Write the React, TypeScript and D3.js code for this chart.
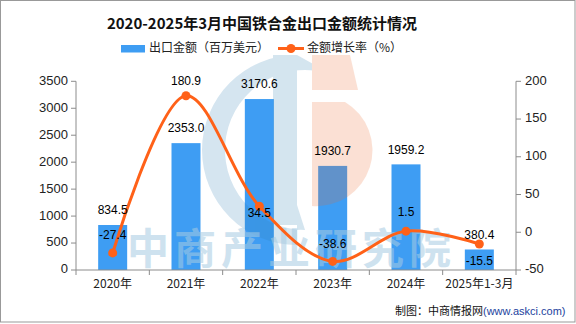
import React from "react";
import * as d3 from "d3";

const categories = ["2020年", "2021年", "2022年", "2023年", "2024年", "2025年1-3月"];
const exportValues = [834.5, 2353.0, 3170.6, 1930.7, 1959.2, 380.4];
const growthRates = [-27.4, 180.9, 34.5, -38.6, 1.5, -15.5];
const leftTicks = [0, 500, 1000, 1500, 2000, 2500, 3000, 3500];
const rightTicks = [-50, 0, 50, 100, 150, 200];
const title = "2020-2025年3月中国铁合金出口金额统计情况";
const legendBar = "出口金额（百万美元）";
const legendLine = "金额增长率（%）";

// style: label vertical offsets for growth labels (px relative to point)
const growthLabelDy = [-17, -14, 8, -17, -18, 18];

const W = 576;
const H = 324;
const M = { left: 76, right: 516, top: 81.3, bottom: 270 };

const BAR = "#3E9DF3";
const LINE = "#FF6118";
const AXIS = "#8c8c8c";
const TXT = "#222";
const FONT = "'Liberation Sans', Arial, sans-serif";
const CJK = "'Noto Sans CJK SC', sans-serif";

export default function App() {
  const x = d3.scaleBand<string>().domain(categories).range([M.left, M.right]).padding(0);
  const bw = 29;
  const yL = d3.scaleLinear().domain([0, 3500]).range([M.bottom, M.top]);
  const yR = d3.scaleLinear().domain([-50, 200]).range([M.bottom, M.top]);
  const cx = (c: string) => (x(c) as number) + x.bandwidth() / 2;

  const pts: [number, number][] = categories.map((c, i) => [cx(c), yR(growthRates[i])]);
  const linePath = d3.line().curve(d3.curveCatmullRom.alpha(0.5))(pts) as string;

  const bounds = categories.map((c) => x(c) as number).concat([M.right]);

  // watermark logo geometry
  const blueC = (() => {
    const p = d3.path();
    // outer left half circle
    p.moveTo(297, 55);
    p.arc(297, 150, 95, -Math.PI / 2, Math.PI / 2, true);
    p.lineTo(297, 225);
    p.lineTo(297, 205);
    p.arc(305, 150, 80, Math.PI / 2, -Math.PI / 2 + 0.35, false);
    p.closePath();
    return p.toString();
  })();

  return (
    <svg width={W} height={H} style={{ position: "absolute", left: 0, top: 0, background: "#fff" }}>
      <rect x={0.5} y={0.5} width={W - 1.5} height={H - 2.5} fill="#fff" stroke="#999" />
      <text x={262} y={25} textAnchor="middle" dominantBaseline="middle" fontFamily={CJK} fontWeight={700} fontSize={15} fill="#111">
        {title}
      </text>
      {/* legend */}
      <rect x={121} y={45} width={24} height={7.5} fill={BAR} />
      <text x={149} y={49} dominantBaseline="middle" fontFamily={CJK} fontSize={12} fill={TXT}>{legendBar}</text>
      <line x1={278} x2={304} y1={48.5} y2={48.5} stroke={LINE} strokeWidth={3} />
      <circle cx={291} cy={48.5} r={4.5} fill={LINE} />
      <text x={307} y={49} dominantBaseline="middle" fontFamily={CJK} fontSize={12} fill={TXT}>{legendLine}</text>

      {/* bars */}
      {categories.map((c, i) => (
        <rect key={c} x={cx(c) - bw / 2} y={yL(exportValues[i])} width={bw} height={M.bottom - yL(exportValues[i])} fill={BAR} />
      ))}

      {/* watermark logo */}
      <g opacity={0.2}>
        <path d={blueC} fill="#2d7fb2" />
        <rect x={273} y={55} width={24} height={170} fill="#2d7fb2" />
        <path d="M312,55 L350,55 L358,90 L312,90 Z" fill="#ec6a2c" />
        <path d="M312,102 L345,102 A56,56 0 0 1 312,206 Z" fill="#ec6a2c" />
      </g>
      <text x={127} y={253} dominantBaseline="middle" fontFamily={CJK} fontWeight={700} fontSize={42} letterSpacing={5} fill="#a7cbe2" opacity={0.55}>
        中商产业研究院
      </text>

      {/* axes */}
      <line x1={M.left} x2={M.left} y1={M.top} y2={M.bottom} stroke={AXIS} />
      <line x1={M.right} x2={M.right} y1={M.top} y2={M.bottom} stroke={AXIS} />
      <line x1={M.left} x2={M.right} y1={M.bottom} y2={M.bottom} stroke={AXIS} />
      {leftTicks.map((t) => (
        <g key={"l" + t}>
          <line x1={M.left - 5} x2={M.left} y1={yL(t)} y2={yL(t)} stroke={AXIS} />
          <text x={M.left - 8} y={yL(t)} textAnchor="end" dominantBaseline="middle" fontFamily={FONT} fontSize={13} fill={TXT}>{t}</text>
        </g>
      ))}
      {rightTicks.map((t) => (
        <g key={"r" + t}>
          <line x1={M.right} x2={M.right + 5} y1={yR(t)} y2={yR(t)} stroke={AXIS} />
          <text x={M.right + 9} y={yR(t)} dominantBaseline="middle" fontFamily={FONT} fontSize={13} fill={TXT}>{t}</text>
        </g>
      ))}
      {bounds.map((b, i) => (
        <line key={"xt" + i} x1={b} x2={b} y1={M.bottom} y2={M.bottom + 5} stroke={AXIS} />
      ))}
      {categories.map((c) => (
        <text key={"xl" + c} x={cx(c)} y={285} textAnchor="middle" dominantBaseline="middle" fontFamily={CJK} fontSize={12} fill={TXT}>{c}</text>
      ))}

      {/* line */}
      <path d={linePath} fill="none" stroke={LINE} strokeWidth={3} />
      {pts.map((p, i) => (
        <circle key={"p" + i} cx={p[0]} cy={p[1]} r={4.5} fill={LINE} />
      ))}

      {/* labels */}
      {categories.map((c, i) => (
        <text key={"bv" + c} x={cx(c)} y={yL(exportValues[i]) - 14} textAnchor="middle" dominantBaseline="middle" fontFamily={FONT} fontSize={12} fill="#000">
          {exportValues[i].toFixed(1)}
        </text>
      ))}
      {categories.map((c, i) => (
        <text key={"gv" + c} x={cx(c)} y={yR(growthRates[i]) + growthLabelDy[i]} textAnchor="middle" dominantBaseline="middle" fontFamily={FONT} fontSize={12} fill="#000">
          {growthRates[i].toFixed(1)}
        </text>
      ))}

      {/* footer */}
      <text x={395} y={312} dominantBaseline="middle" fontFamily={CJK} fontSize={11} fill="#111">
        制图：中商情报网
        <tspan fontFamily={FONT} fontSize={11} fill="#1d3f9e">(www.askci.com)</tspan>
      </text>
    </svg>
  );
}
